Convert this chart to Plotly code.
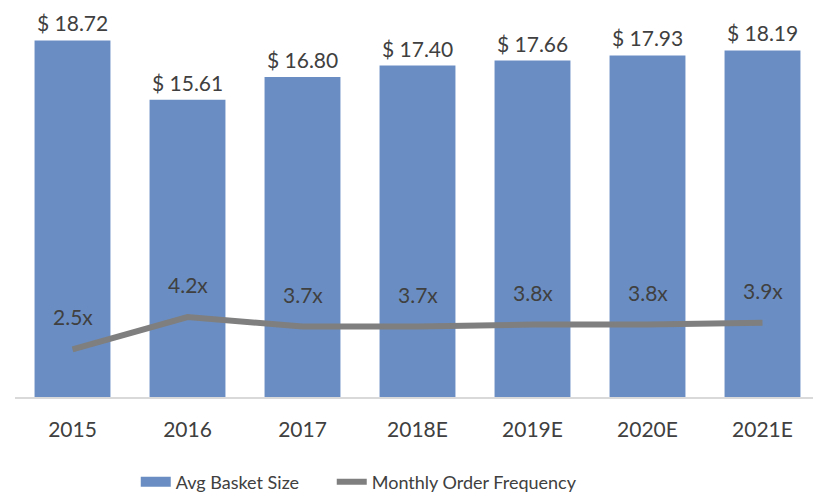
import plotly.graph_objects as go

years = ["2015", "2016", "2017", "2018E", "2019E", "2020E", "2021E"]
basket_size = [18.72, 15.61, 16.80, 17.40, 17.66, 17.93, 18.19]
order_freq = [2.5, 4.2, 3.7, 3.7, 3.8, 3.8, 3.9]
order_freq_labels = ["2.5x", "4.2x", "3.7x", "3.7x", "3.8x", "3.8x", "3.9x"]

BAR_COLOR = "#6A8EC3"
LINE_COLOR = "#7F7F7F"
TEXT_COLOR = "#404040"
FONT = "Lato, Calibri, sans-serif"

fig = go.Figure()
fig.add_trace(go.Bar(
    x=years, y=basket_size, name="Avg Basket Size",
    marker=dict(color=BAR_COLOR, line=dict(width=0)),
    yaxis="y", showlegend=False,
))
# legend swatch for the bars (wide rectangle like the reference)
fig.add_trace(go.Scatter(
    x=[years[0]], y=[None], name="Avg Basket Size" + "\u00a0" * 6,
    mode="lines", line=dict(color=BAR_COLOR, width=14),
    yaxis="y", hoverinfo="skip",
))
fig.add_trace(go.Scatter(
    x=years, y=order_freq, name="Monthly Order Frequency",
    mode="lines", line=dict(color=LINE_COLOR, width=6),
    yaxis="y2",
))

annotations = []
for i, v in enumerate(basket_size):
    annotations.append(dict(
        x=i, y=v, xref="x", yref="y", text=f"$ {v:.2f}",
        showarrow=False, yanchor="bottom", yshift=4, borderpad=0,
        font=dict(size=21, color=TEXT_COLOR, family=FONT),
    ))
for i, (v, lab) in enumerate(zip(order_freq, order_freq_labels)):
    annotations.append(dict(
        x=i, y=v, xref="x", yref="y2", text=lab,
        showarrow=False, yanchor="bottom", yshift=18,
        font=dict(size=21, color=TEXT_COLOR, family=FONT),
    ))

fig.update_layout(
    width=813, height=485,
    margin=dict(l=7, r=1, t=8, b=96, autoexpand=False),
    paper_bgcolor="white", plot_bgcolor="white",
    font=dict(family=FONT, size=21, color=TEXT_COLOR),
    bargap=0.34,
    showlegend=True,
    legend=dict(
        orientation="h", x=0.15, xanchor="left", y=-0.223, yanchor="middle",
        font=dict(size=18, color=TEXT_COLOR, family=FONT),
        traceorder="normal",
    ),
    xaxis=dict(
        type="category", range=[-0.5, len(years) - 0.5],
        showgrid=False, showline=True, linecolor="#D9D9D9", linewidth=2,
        ticks="", ticklabelstandoff=13,
        tickfont=dict(size=21, color=TEXT_COLOR, family=FONT),
    ),
    yaxis=dict(range=[0, 20], visible=False, showgrid=False, zeroline=False),
    yaxis2=dict(range=[0, 20], visible=False, showgrid=False, zeroline=False,
                overlaying="y", side="right"),
    annotations=annotations,
)

fig.write_html("out.html")
